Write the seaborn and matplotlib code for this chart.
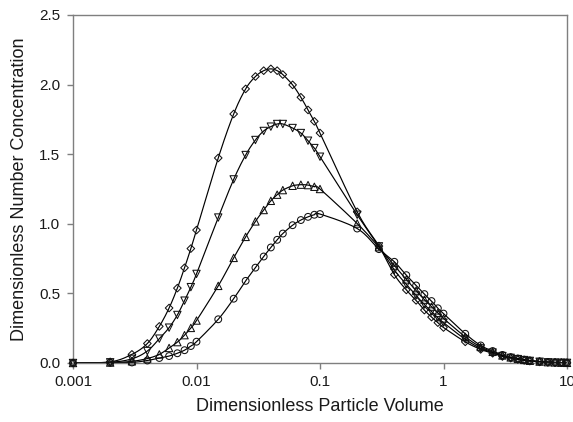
import numpy as np
import pandas as pd
import matplotlib
matplotlib.use("Agg")
import matplotlib.pyplot as plt
from matplotlib.ticker import NullLocator, FixedLocator, FixedFormatter
import seaborn as sns

# ---------------- data ----------------
volume = [0.001, 0.002, 0.003, 0.004, 0.005, 0.006, 0.007, 0.008, 0.009, 0.01,
          0.015, 0.02, 0.025, 0.03, 0.035, 0.04, 0.045, 0.05, 0.06, 0.07, 0.08, 0.09, 0.1,
          0.2, 0.3, 0.4, 0.5, 0.6, 0.7, 0.8, 0.9, 1,
          1.5, 2, 2.5, 3, 3.5, 4, 4.5, 5, 6, 7, 8, 9, 10]

conc_diamond = [0.0, 0.008, 0.062, 0.140, 0.263, 0.395, 0.538, 0.684, 0.822, 0.955,
                1.473, 1.789, 1.969, 2.058, 2.100, 2.113, 2.100, 2.072, 1.998, 1.909, 1.818, 1.736, 1.652,
                1.086, 0.840, 0.635, 0.525, 0.450, 0.380, 0.330, 0.290, 0.255,
                0.152, 0.098, 0.070, 0.047, 0.035, 0.026, 0.019, 0.014, 0.008, 0.005, 0.003, 0.002, 0.001]

conc_down = [0.0, 0.005, 0.030, 0.086, 0.175, 0.254, 0.345, 0.448, 0.545, 0.640,
             1.045, 1.319, 1.494, 1.602, 1.667, 1.698, 1.717, 1.717, 1.688, 1.652, 1.597, 1.544, 1.482,
             1.065, 0.838, 0.668, 0.565, 0.485, 0.420, 0.370, 0.325, 0.290,
             0.170, 0.105, 0.075, 0.050, 0.037, 0.028, 0.021, 0.015, 0.009, 0.005, 0.003, 0.002, 0.001]

conc_up = [0.0, 0.003, 0.012, 0.032, 0.062, 0.108, 0.150, 0.200, 0.252, 0.305,
           0.554, 0.755, 0.906, 1.017, 1.099, 1.165, 1.209, 1.242, 1.273, 1.281, 1.278, 1.266, 1.250,
           1.002, 0.832, 0.700, 0.600, 0.520, 0.455, 0.405, 0.360, 0.320,
           0.188, 0.115, 0.080, 0.054, 0.040, 0.030, 0.022, 0.016, 0.010, 0.006, 0.004, 0.002, 0.001]

conc_circle = [0.0, 0.002, 0.004, 0.018, 0.036, 0.050, 0.070, 0.092, 0.122, 0.153,
               0.314, 0.462, 0.590, 0.685, 0.765, 0.830, 0.885, 0.930, 0.990, 1.027, 1.050, 1.065, 1.070,
               0.966, 0.818, 0.727, 0.631, 0.557, 0.495, 0.445, 0.393, 0.355,
               0.210, 0.126, 0.086, 0.058, 0.042, 0.032, 0.024, 0.018, 0.011, 0.007, 0.004, 0.003, 0.002]

series_names = ["diamond", "down", "up", "circle"]
series_values = [conc_diamond, conc_down, conc_up, conc_circle]
series_markers = ["D", "v", "^", "o"]
series_area = [15, 28, 28, 24]

x_ticks = [0.001, 0.01, 0.1, 1, 10]
x_tick_labels = ["0.001", "0.01", "0.1", "1", "10"]
y_ticks = [0.0, 0.5, 1.0, 1.5, 2.0, 2.5]
y_tick_labels = ["0.0", "0.5", "1.0", "1.5", "2.0", "2.5"]
x_label = "Dimensionless Particle Volume"
y_label = "Dimensionless Number Concentration"


def smooth_curve(xs, ys, n=12):
    """Catmull-Rom smoothing in (log10 x, y) space, like a spreadsheet's smoothed line."""
    lx = np.log10(np.asarray(xs, float))
    yy = np.asarray(ys, float)
    P = np.column_stack([lx, yy])
    P = np.vstack([P[0], P, P[-1]])
    out = []
    t = np.linspace(0, 1, n, endpoint=False)[:, None]
    for i in range(1, len(P) - 2):
        p0, p1, p2, p3 = P[i - 1], P[i], P[i + 1], P[i + 2]
        seg = 0.5 * ((2 * p1) + (-p0 + p2) * t + (2 * p0 - 5 * p1 + 4 * p2 - p3) * t ** 2
                     + (-p0 + 3 * p1 - 3 * p2 + p3) * t ** 3)
        out.append(seg)
    out.append(P[-2][None, :])
    out = np.vstack(out)
    return 10 ** out[:, 0], out[:, 1]


sns.set_style("white")
plt.rcParams["font.family"] = ["Liberation Sans", "DejaVu Sans"]

W, H = 573, 422
fig = plt.figure(figsize=(W / 100, H / 100), dpi=100)
left, right, top, bottom = 73, 567, 15, 363
ax = fig.add_axes([left / W, 1 - bottom / H, (right - left) / W, (bottom - top) / H])

for name, vals, mk, area in zip(series_names, series_values, series_markers, series_area):
    sx, sy = smooth_curve(volume, vals)
    curve = pd.DataFrame({"x": sx, "y": sy})
    sns.lineplot(data=curve, x="x", y="y", sort=False, estimator=None, ax=ax,
                 color="black", linewidth=0.85, zorder=2)
    pts = pd.DataFrame({"x": volume, "y": vals})
    sns.scatterplot(data=pts, x="x", y="y", ax=ax, marker=mk, s=area,
                    facecolor="none", edgecolor="#111111", linewidth=0.75,
                    zorder=3, clip_on=False)

ax.set_xscale("log")
ax.set_xlim(0.001, 10)
ax.set_ylim(0, 2.5)
ax.xaxis.set_major_locator(FixedLocator(x_ticks))
ax.xaxis.set_major_formatter(FixedFormatter(x_tick_labels))
ax.xaxis.set_minor_locator(NullLocator())
ax.set_yticks(y_ticks)
ax.set_yticklabels(y_tick_labels)

for sp in ax.spines.values():
    sp.set_visible(True)
    sp.set_color("#7f7f7f")
    sp.set_linewidth(1.0)

ax.tick_params(axis="both", which="major", direction="out", length=4, width=1,
               color="#7f7f7f", labelsize=11, labelcolor="#1a1a1a", pad=5)
ax.tick_params(axis="x", bottom=True)
ax.tick_params(axis="y", left=True)

ax.set_xlabel(x_label, fontsize=13, color="#1a1a1a", labelpad=6)
ax.set_ylabel(y_label, fontsize=13, color="#1a1a1a", labelpad=8)

fig.savefig("out.png", dpi=100)
